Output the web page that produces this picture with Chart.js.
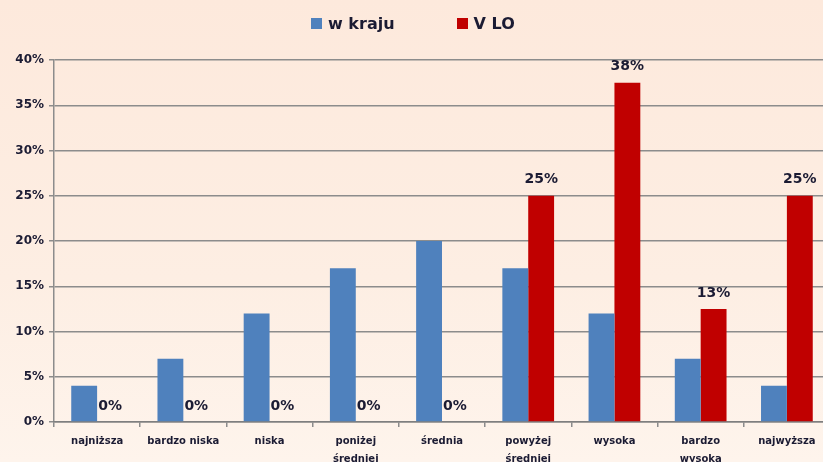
<!DOCTYPE html>
<html>
<head>
<meta charset="utf-8">
<script src="https://cdn.jsdelivr.net/npm/chart.js@4"></script>
<style>
    html, body {
        margin: 0;
        padding: 0;
        width: 823px;
        height: 462px;
        overflow: hidden;
        background: linear-gradient(to bottom, #fde9dc 0%, #fdeee3 60%, #fef4ec 100%);
        font-family: 'DejaVu Sans', sans-serif;
    }
    #wrap { position: relative; width: 840px; height: 462px; }
    #legend {
        position: absolute; top: 14px; left: 311px;
        font: bold 16px 'DejaVu Sans', sans-serif; color: #1b1b33;
        display: flex; align-items: center; white-space: nowrap;
    }
    #legend span.box { display: inline-block; width: 11px; height: 11px; margin-right: 6px; }
    #legend span.item { display: flex; align-items: center; margin-right: 62px; }
</style>
</head>
<body>
<div id="wrap">
    <div id="legend"></div>
    <canvas id="chart" width="840" height="462"></canvas>
</div>
<script>
/* ==================== DATA ==================== */
const categories = [
    'najniższa', 'bardzo niska', 'niska', ['poniżej', 'średniej'], 'średnia',
    ['powyżej', 'średniej'], 'wysoka', ['bardzo', 'wysoka'], 'najwyższa'
];
const seriesNames = ['w kraju', 'V LO'];
const wKraju = [4, 7, 12, 17, 20, 17, 12, 7, 4];
const vLO = [0, 0, 0, 0, 0, 25, 37.5, 12.5, 25];
const yTicks = [0, 5, 10, 15, 20, 25, 30, 35, 40];
const colors = ['#4f81bd', '#c00000'];

// Legend (HTML)
const legendEl = document.getElementById('legend');
seriesNames.forEach((name, i) => {
    const item = document.createElement('span');
    item.className = 'item';
    item.innerHTML = '<span class="box" style="background:' + colors[i] + '"></span>' + name;
    legendEl.appendChild(item);
});

// Value labels on the V LO bars
const valueLabels = {
    id: 'valueLabels',
    afterDatasetsDraw(chart) {
        const ctx = chart.ctx;
        const meta = chart.getDatasetMeta(1);
        ctx.save();
        ctx.font = 'bold 14px "DejaVu Sans"';
        ctx.fillStyle = '#1b1b33';
        ctx.textAlign = 'center';
        ctx.textBaseline = 'middle';
        meta.data.forEach((bar, i) => {
            ctx.fillText(Math.round(vLO[i]) + '%', bar.x, bar.y - 16);
        });
        ctx.restore();
    }
};

new Chart(document.getElementById('chart'), {
    type: 'bar',
    data: {
        labels: categories,
        datasets: [{
            label: seriesNames[0],
            data: wKraju,
            backgroundColor: colors[0],
            barPercentage: 1,
            categoryPercentage: 0.6
        }, {
            label: seriesNames[1],
            data: vLO,
            backgroundColor: colors[1],
            barPercentage: 1,
            categoryPercentage: 0.6
        }]
    },
    options: {
        responsive: false,
        animation: false,
        layout: {
            padding: { top: 60, right: 10, left: 0, bottom: 0 }
        },
        plugins: {
            legend: { display: false },
            tooltip: { enabled: false }
        },
        scales: {
            y: {
                min: 0,
                max: 40,
                afterBuildTicks: scale => { scale.ticks = yTicks.map(v => ({ value: v })); },
                afterFit: scale => { scale.width = 54; },
                ticks: {
                    callback: v => v + '%',
                    color: '#1b1b33',
                    font: { family: 'DejaVu Sans', size: 12, weight: 'bold' },
                    padding: 5
                },
                grid: {
                    color: '#8c8c8c',
                    lineWidth: 1.5,
                    tickLength: 5
                },
                border: { color: '#8c8c8c', width: 1.5 }
            },
            x: {
                afterFit: scale => { scale.height = 40; },
                ticks: {
                    color: '#1b1b33',
                    font: { family: 'DejaVu Sans', size: 10, weight: 'bold', lineHeight: 1.8 },
                    maxRotation: 0,
                    autoSkip: false,
                    padding: 5
                },
                grid: {
                    drawOnChartArea: false,
                    color: '#8c8c8c',
                    lineWidth: 1.5,
                    tickLength: 5
                },
                border: { color: '#7f7f7f', width: 1.5 }
            }
        }
    },
    plugins: [valueLabels]
});
</script>
</body>
</html>
